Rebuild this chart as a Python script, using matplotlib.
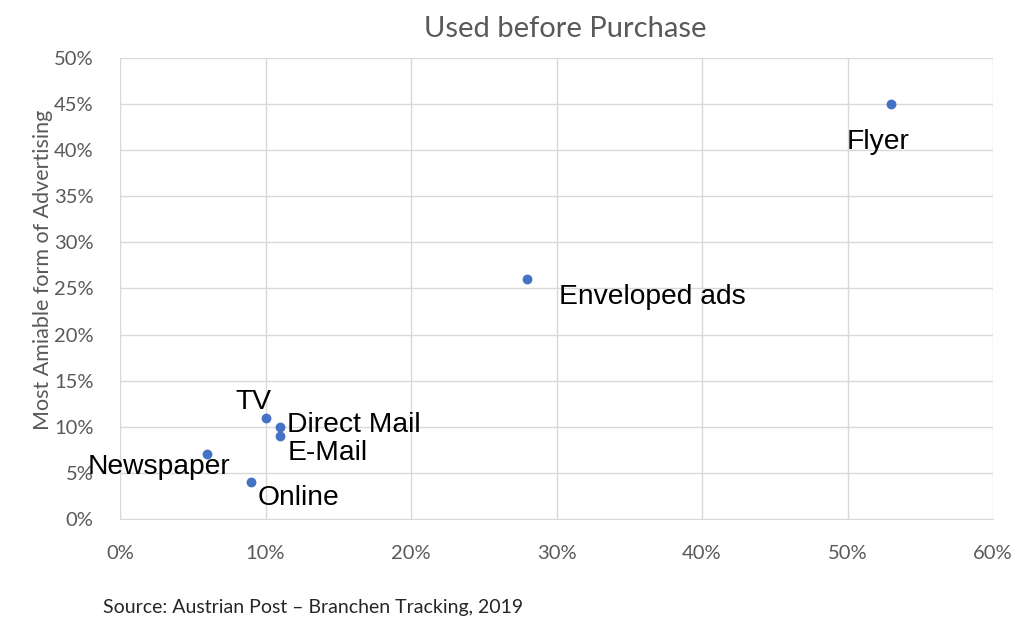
import matplotlib
matplotlib.use("Agg")
import matplotlib.pyplot as plt
from matplotlib.ticker import FuncFormatter, MultipleLocator

names = ["Flyer", "Enveloped ads", "TV", "Direct Mail", "E-Mail", "Newspaper", "Online"]
used_before_purchase = [0.53, 0.28, 0.10, 0.11, 0.11, 0.06, 0.09]
most_amiable = [0.45, 0.26, 0.11, 0.10, 0.09, 0.07, 0.04]

label_offsets = {
    "Flyer": (-13, -38, "center"),
    "Enveloped ads": (32, -18, "left"),
    "TV": (-12, 16, "center"),
    "Direct Mail": (7, 2, "left"),
    "E-Mail": (8, -17, "left"),
    "Newspaper": (-48, -13, "center"),
    "Online": (7, -16, "left"),
}

fig = plt.figure(figsize=(10.24, 6.37), dpi=100)
ax = fig.add_axes([120/1024, 1-519/637, (993-120)/1024, (519-58)/637])

ax.scatter(used_before_purchase, most_amiable, s=50, color="#4472C4", zorder=3, linewidths=0)

for n, x, y in zip(names, used_before_purchase, most_amiable):
    dx, dy, ha = label_offsets[n]
    ax.annotate(n, (x, y), xytext=(dx, dy), textcoords="offset pixels",
                ha=ha, va="center", fontsize=20.3, family="Liberation Sans", color="black")

ax.set_xlim(0, 0.6)
ax.set_ylim(0, 0.5)
ax.xaxis.set_major_locator(MultipleLocator(0.1))
ax.yaxis.set_major_locator(MultipleLocator(0.05))
pct = FuncFormatter(lambda v, p: f"{v*100:.0f}%")
ax.xaxis.set_major_formatter(pct)
ax.yaxis.set_major_formatter(pct)
ax.grid(True, color="#D9D9D9", linewidth=1)
ax.set_axisbelow(True)
for s in ["top", "right", "left"]:
    ax.spines[s].set_visible(False)
ax.spines["bottom"].set_color("#D9D9D9")
ax.tick_params(length=0, labelsize=14.5, colors="#595959")
ax.tick_params(axis="x", pad=19)
ax.tick_params(axis="y", pad=19)
for lbl in ax.get_xticklabels() + ax.get_yticklabels():
    lbl.set_family("Lato")

fig.text(565/1024, 1-29/637, "Used before Purchase", ha="center", va="center",
         fontsize=21, family="Lato", color="#595959")
fig.text(43/1024, 1-270/637, "Most Amiable form of Advertising", rotation=90,
         ha="center", va="center", fontsize=15.5, family="Lato", color="#595959")
fig.text(103/1024, 1-607/637, "Source: Austrian Post \u2013 Branchen Tracking, 2019",
         ha="left", va="center", fontsize=14, family="Lato", color="#262626")

fig.savefig("out.png", dpi=100)
